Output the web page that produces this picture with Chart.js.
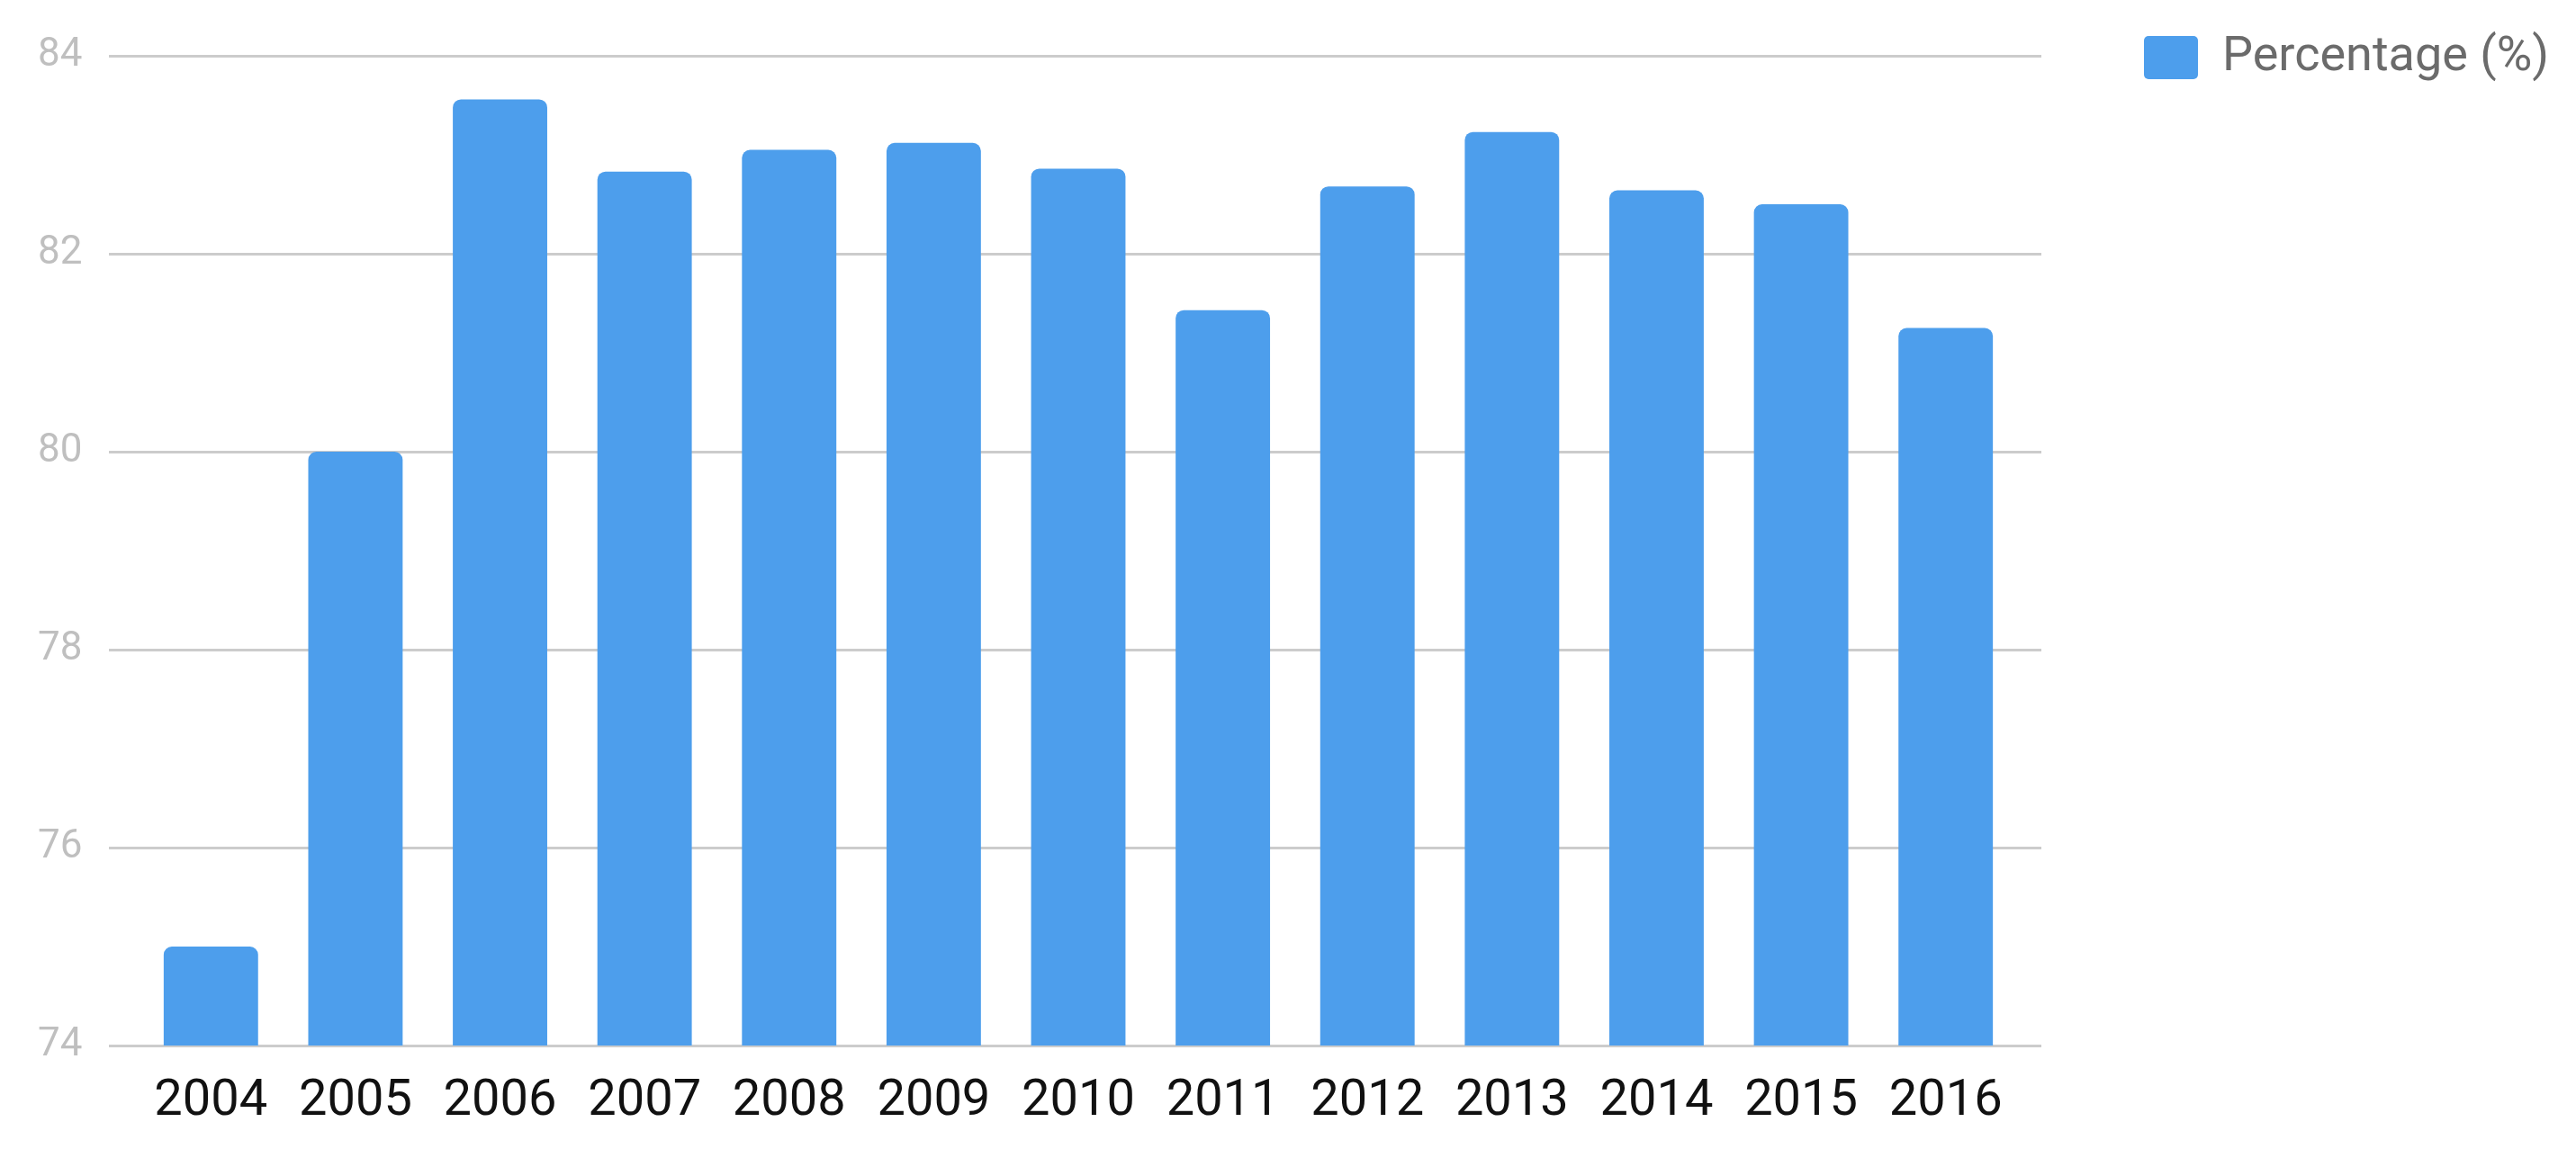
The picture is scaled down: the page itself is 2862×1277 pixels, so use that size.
<!DOCTYPE html>
<html>
<head>
<meta charset="utf-8">
<title>Percentage (%) 2004-2016</title>
<script src="https://cdn.jsdelivr.net/npm/chart.js@4/dist/chart.umd.min.js"></script>
<style>
  html, body { margin: 0; padding: 0; background: #ffffff; }
  #wrap { width: 2862px; height: 1277px; position: relative; }
</style>
</head>
<body>
<div id="wrap"><canvas id="chart"></canvas></div>
<script>
// data
const years = ['2004', '2005', '2006', '2007', '2008', '2009', '2010',
               '2011', '2012', '2013', '2014', '2015', '2016'];
const percentage = [75.0, 80.0, 83.56, 82.83, 83.05, 83.12, 82.86,
                    81.43, 82.68, 83.23, 82.64, 82.50, 81.25];
const yTicks = [74, 76, 78, 80, 82, 84];
const seriesLabel = 'Percentage (%)';

Chart.defaults.font.family = 'Roboto';

// horizontal grid lines run a bit past the bars on both sides
const extendedGrid = {
  id: 'extendedGrid',
  beforeDatasetsDraw(chart) {
    const { ctx, chartArea, scales: { y } } = chart;
    ctx.save();
    ctx.strokeStyle = '#cccccc';
    ctx.lineWidth = 3;
    y.ticks.forEach(t => {
      const py = Math.round(y.getPixelForValue(t.value)) + 0.5;
      ctx.beginPath();
      ctx.moveTo(chartArea.left - 33, py);
      ctx.lineTo(chartArea.right + 26, py);
      ctx.stroke();
    });
    ctx.restore();
  }
};

const ctx = document.getElementById('chart').getContext('2d');
new Chart(ctx, {
  type: 'bar',
  data: {
    labels: years,
    datasets: [{
      label: seriesLabel,
      data: percentage,
      backgroundColor: '#4d9eec',
      borderWidth: 0,
      borderRadius: 9,
      borderSkipped: 'start',
      categoryPercentage: 1,
      barPercentage: 0.653,
    }],
  },
  options: {
    responsive: true,
    maintainAspectRatio: false,
    animation: false,
    layout: { padding: { top: 27, left: 42, right: 24, bottom: 0 } },
    scales: {
      x: {
        grid: { display: false, drawTicks: false },
        border: { display: false },
        ticks: { color: '#111111', font: { size: 56 }, padding: 29, maxRotation: 0 },
        afterFit: s => { s.height = 115; },
      },
      // empty axes only used to keep space round the plot
      xTop: {
        position: 'top',
        grid: { display: false, drawTicks: false },
        border: { display: false },
        ticks: { display: false },
        afterFit: s => { s.height = 35; },
      },
      y: {
        min: 74,
        max: 84,
        afterBuildTicks: s => { s.ticks = yTicks.map(v => ({ value: v })); },
        grid: { display: false, drawTicks: false },
        border: { display: false },
        ticks: { color: '#bfbfbf', font: { size: 44 }, padding: 0, crossAlign: 'far' },
        afterFit: s => { s.width = 112; },
      },
      yRight: {
        type: 'linear',
        position: 'right',
        grid: { display: false, drawTicks: false },
        border: { display: false },
        ticks: { display: false },
        afterFit: s => { s.width = 130; },
      },
    },
    plugins: {
      legend: {
        position: 'right',
        align: 'start',
        labels: {
          boxWidth: 60,
          boxHeight: 48,
          useBorderRadius: true,
          borderRadius: 5,
          padding: 10,
          color: '#6b6b6b',
          font: { size: 54 },
        },
      },
      tooltip: { enabled: false },
    },
  },
  plugins: [extendedGrid],
});
</script>
</body>
</html>
